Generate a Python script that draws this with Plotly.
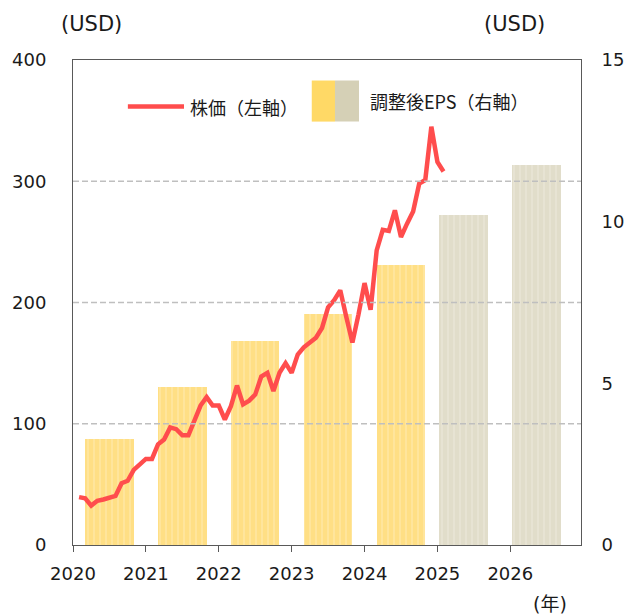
import plotly.graph_objects as go

# ---- data ----
price_months = [f"{y}-{m:02d}" for y in range(2020, 2026) for m in range(1, 13)][:61]
price_values = [
    39.5, 38.5, 32.5, 36.5, 37.5, 39.5, 40.5, 51, 53, 62, 67, 71,
    71, 83, 87, 97, 95.5, 90.5, 90.5, 104, 115, 122, 115, 115,
    103.5, 114.5, 131.5, 116, 119, 124, 139, 142, 127, 142, 150, 142,
    157, 163, 167, 171, 179, 196, 202, 210, 188, 167, 190, 216,
    194, 243, 260, 259, 276, 254, 265, 275, 298, 301, 345, 316,
    308,
]
eps_years = [2020, 2021, 2022, 2023, 2024, 2025, 2026]
eps_values = [3.29, 4.90, 6.32, 7.15, 8.67, 10.22, 11.76]
eps_is_forecast = [False, False, False, False, False, True, True]
x_tick_years = [2020, 2021, 2022, 2023, 2024, 2025, 2026]
price_ticks = [0, 100, 200, 300, 400]
eps_ticks = [0, 5, 10, 15]

# ---- derived ----
price_x = [int(s[:4]) + int(s[5:]) / 12 for s in price_months]

YELLOW = "#FFD966"
GRAY = "#D5D0B6"
BAR_YELLOW = "#FFDF85"
BAR_GRAY = "#E1DDCA"
STRIPE_YELLOW = "#FFE9AC"
STRIPE_GRAY = "#EBE8DA"
RED = "#FF4D4D"
AX = "#595959"
FONT = "DejaVu Sans, Noto Sans CJK JP, sans-serif"
JFONT = "Noto Sans CJK JP, sans-serif"

fig = go.Figure()
for forecast, bg, fg, offset in [(False, BAR_YELLOW, STRIPE_YELLOW, 0.5),
                                 (True, BAR_GRAY, STRIPE_GRAY, 0.36)]:
    xs = [y + offset for y, f in zip(eps_years, eps_is_forecast) if f == forecast]
    ys = [v for v, f in zip(eps_values, eps_is_forecast) if f == forecast]
    fig.add_trace(go.Bar(
        x=xs, y=ys, width=0.665,
        marker=dict(
            color=bg, line=dict(width=0),
            pattern=dict(shape="|", fillmode="replace", bgcolor=bg, fgcolor=fg,
                         fgopacity=1, size=6, solidity=0.2),
        ),
        yaxis="y", showlegend=False, hoverinfo="skip",
    ))
fig.add_trace(go.Scatter(
    x=price_x, y=price_values, mode="lines",
    line=dict(color=RED, width=4.5), yaxis="y2", showlegend=False,
))

# dashed gridlines above bars
for v in price_ticks[1:-1]:
    fig.add_shape(type="line", xref="paper", x0=0, x1=1, yref="y2", y0=v, y1=v,
                  line=dict(color="#BFBFBF", width=1.5, dash="6px,3px"), layer="above")

# custom legend
fig.add_shape(type="line", xref="paper", yref="paper", x0=0.108, x1=0.2185,
              y0=0.904, y1=0.904, line=dict(color=RED, width=4.5))
fig.add_shape(type="rect", xref="paper", yref="paper", x0=0.470, x1=0.5157,
              y0=0.873, y1=0.9577, fillcolor=YELLOW, line=dict(width=0))
fig.add_shape(type="rect", xref="paper", yref="paper", x0=0.5157, x1=0.563,
              y0=0.873, y1=0.9577, fillcolor=GRAY, line=dict(width=0))
fig.add_annotation(text="株価（左軸）", xref="paper", yref="paper", x=0.2264, y=0.904,
                   xanchor="left", yanchor="middle", showarrow=False,
                   font=dict(family=JFONT, size=18, color="#1a1a1a"))
fig.add_annotation(text="調整後EPS（右軸）", xref="paper", yref="paper", x=0.5807, y=0.9164,
                   xanchor="left", yanchor="middle", showarrow=False,
                   font=dict(family=JFONT, size=18, color="#1a1a1a"))

# axis titles
for txt, x, y in [("(USD)", 0.0374, 1.075), ("(USD)", 0.870, 1.075), ("(年)", 0.939, -0.122)]:
    fig.add_annotation(text=txt, xref="paper", yref="paper", x=x, y=y,
                       xanchor="center", yanchor="middle", showarrow=False,
                       font=dict(family=FONT, size=21 if "USD" in txt else 19, color="#1a1a1a"))

fig.update_layout(
    width=638, height=616, autosize=False,
    margin=dict(l=73, r=57, t=60, b=71, pad=0),
    paper_bgcolor="white", plot_bgcolor="white",
    font=dict(family=FONT, size=18, color="#1a1a1a"),
    bargap=0, barmode="overlay",
    xaxis=dict(
        range=[2020, 2026.97], tickmode="array", tickvals=x_tick_years,
        ticktext=[str(y) for y in x_tick_years],
        ticks="outside", ticklen=6, tickcolor=AX, tickwidth=1,
        showline=True, linecolor=AX, linewidth=1, mirror=True,
        showgrid=False, zeroline=False, ticklabelstandoff=6,
    ),
    yaxis=dict(
        range=[0, 15], tickmode="array", tickvals=eps_ticks, side="right",
        showline=True, linecolor=AX, linewidth=1, showgrid=False, zeroline=False,
        ticks="", ticklabelstandoff=16,
    ),
    yaxis2=dict(
        range=[0, 400], tickmode="array", tickvals=price_ticks, side="left",
        overlaying="y", showline=True, linecolor=AX, linewidth=1,
        showgrid=False, zeroline=False, ticks="", ticklabelstandoff=22,
    ),
)

fig.write_html("out.html")
